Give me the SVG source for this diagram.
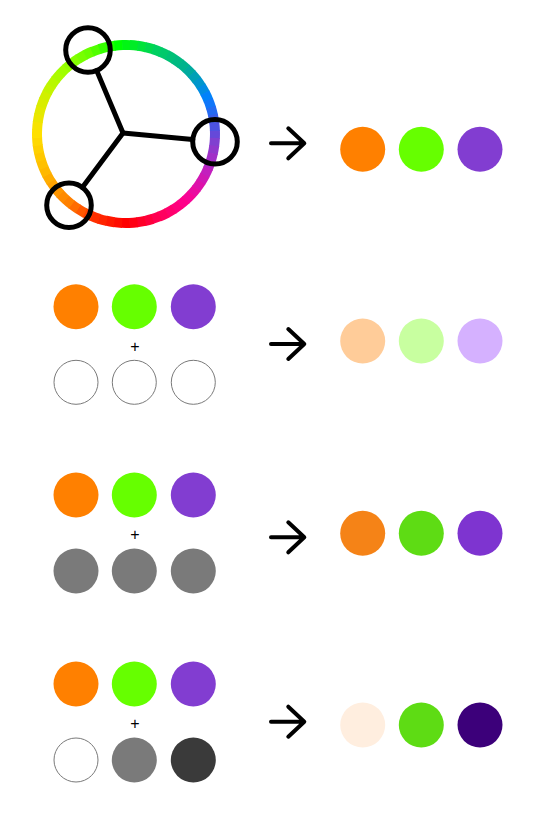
<svg xmlns="http://www.w3.org/2000/svg" xmlns:xlink="http://www.w3.org/1999/xlink" width="542" height="813" viewBox="0 0 542 813">
<style>
.arrow{fill:none;stroke:#000;stroke-width:4;stroke-linecap:round;stroke-linejoin:round}
.spoke{stroke:#000;stroke-width:5;stroke-linecap:round}
.pick{fill:none;stroke:#000;stroke-width:5}
.ring{fill:none;stroke-width:10;stroke-dasharray:8.6 600}
.out{fill:#fff;stroke:#7a7a7a;stroke-width:1}
.plus{font-family:"Liberation Sans",Arial,sans-serif;font-size:16px;fill:#000;text-anchor:middle}
</style>
<defs>
<circle id="seg" class="ring" cx="126" cy="134" r="89"/>
</defs>
<rect width="542" height="813" fill="#fff"/>

<g id="wheel">
<g id="hue-ring">
<use xlink:href="#seg" transform="rotate(-2.5 126 134)" stroke="#6549D9"/>
<use xlink:href="#seg" transform="rotate(2.5 126 134)" stroke="#8040D0"/>
<use xlink:href="#seg" transform="rotate(7.5 126 134)" stroke="#9138CC"/>
<use xlink:href="#seg" transform="rotate(12.5 126 134)" stroke="#A22FC8"/>
<use xlink:href="#seg" transform="rotate(17.5 126 134)" stroke="#B227C3"/>
<use xlink:href="#seg" transform="rotate(22.5 126 134)" stroke="#C31FBE"/>
<use xlink:href="#seg" transform="rotate(27.5 126 134)" stroke="#D018B4"/>
<use xlink:href="#seg" transform="rotate(32.5 126 134)" stroke="#DD11AA"/>
<use xlink:href="#seg" transform="rotate(37.5 126 134)" stroke="#EA0BA0"/>
<use xlink:href="#seg" transform="rotate(42.5 126 134)" stroke="#F70496"/>
<use xlink:href="#seg" transform="rotate(47.5 126 134)" stroke="#FF008A"/>
<use xlink:href="#seg" transform="rotate(52.5 126 134)" stroke="#FF007C"/>
<use xlink:href="#seg" transform="rotate(57.5 126 134)" stroke="#FF006D"/>
<use xlink:href="#seg" transform="rotate(62.5 126 134)" stroke="#FF005F"/>
<use xlink:href="#seg" transform="rotate(67.5 126 134)" stroke="#FF0050"/>
<use xlink:href="#seg" transform="rotate(72.5 126 134)" stroke="#FF003C"/>
<use xlink:href="#seg" transform="rotate(77.5 126 134)" stroke="#FF0028"/>
<use xlink:href="#seg" transform="rotate(82.5 126 134)" stroke="#FF0014"/>
<use xlink:href="#seg" transform="rotate(87.5 126 134)" stroke="#FF0000"/>
<use xlink:href="#seg" transform="rotate(92.5 126 134)" stroke="#FF0C00"/>
<use xlink:href="#seg" transform="rotate(97.5 126 134)" stroke="#FF1800"/>
<use xlink:href="#seg" transform="rotate(102.5 126 134)" stroke="#FF2400"/>
<use xlink:href="#seg" transform="rotate(107.5 126 134)" stroke="#FF3000"/>
<use xlink:href="#seg" transform="rotate(112.5 126 134)" stroke="#FF4400"/>
<use xlink:href="#seg" transform="rotate(117.5 126 134)" stroke="#FF5800"/>
<use xlink:href="#seg" transform="rotate(122.5 126 134)" stroke="#FF6C00"/>
<use xlink:href="#seg" transform="rotate(127.5 126 134)" stroke="#FF8000"/>
<use xlink:href="#seg" transform="rotate(132.5 126 134)" stroke="#FF8B00"/>
<use xlink:href="#seg" transform="rotate(137.5 126 134)" stroke="#FF9600"/>
<use xlink:href="#seg" transform="rotate(142.5 126 134)" stroke="#FFA200"/>
<use xlink:href="#seg" transform="rotate(147.5 126 134)" stroke="#FFAD00"/>
<use xlink:href="#seg" transform="rotate(152.5 126 134)" stroke="#FFB800"/>
<use xlink:href="#seg" transform="rotate(157.5 126 134)" stroke="#FFC000"/>
<use xlink:href="#seg" transform="rotate(162.5 126 134)" stroke="#FFC800"/>
<use xlink:href="#seg" transform="rotate(167.5 126 134)" stroke="#FFD000"/>
<use xlink:href="#seg" transform="rotate(172.5 126 134)" stroke="#FFD800"/>
<use xlink:href="#seg" transform="rotate(177.5 126 134)" stroke="#FFE000"/>
<use xlink:href="#seg" transform="rotate(182.5 126 134)" stroke="#F6E300"/>
<use xlink:href="#seg" transform="rotate(187.5 126 134)" stroke="#ECE600"/>
<use xlink:href="#seg" transform="rotate(192.5 126 134)" stroke="#E3EA00"/>
<use xlink:href="#seg" transform="rotate(197.5 126 134)" stroke="#D9ED00"/>
<use xlink:href="#seg" transform="rotate(202.5 126 134)" stroke="#D0F000"/>
<use xlink:href="#seg" transform="rotate(207.5 126 134)" stroke="#C4F400"/>
<use xlink:href="#seg" transform="rotate(212.5 126 134)" stroke="#B8F800"/>
<use xlink:href="#seg" transform="rotate(217.5 126 134)" stroke="#ACFB00"/>
<use xlink:href="#seg" transform="rotate(222.5 126 134)" stroke="#A0FF00"/>
<use xlink:href="#seg" transform="rotate(227.5 126 134)" stroke="#92FF00"/>
<use xlink:href="#seg" transform="rotate(232.5 126 134)" stroke="#84FF00"/>
<use xlink:href="#seg" transform="rotate(237.5 126 134)" stroke="#77FF00"/>
<use xlink:href="#seg" transform="rotate(242.5 126 134)" stroke="#69FF00"/>
<use xlink:href="#seg" transform="rotate(247.5 126 134)" stroke="#51FF00"/>
<use xlink:href="#seg" transform="rotate(252.5 126 134)" stroke="#36FF00"/>
<use xlink:href="#seg" transform="rotate(257.5 126 134)" stroke="#1BFF00"/>
<use xlink:href="#seg" transform="rotate(262.5 126 134)" stroke="#00FF00"/>
<use xlink:href="#seg" transform="rotate(267.5 126 134)" stroke="#00F613"/>
<use xlink:href="#seg" transform="rotate(272.5 126 134)" stroke="#00EC26"/>
<use xlink:href="#seg" transform="rotate(277.5 126 134)" stroke="#00E33A"/>
<use xlink:href="#seg" transform="rotate(282.5 126 134)" stroke="#00D94D"/>
<use xlink:href="#seg" transform="rotate(287.5 126 134)" stroke="#00D060"/>
<use xlink:href="#seg" transform="rotate(292.5 126 134)" stroke="#00C96B"/>
<use xlink:href="#seg" transform="rotate(297.5 126 134)" stroke="#00C176"/>
<use xlink:href="#seg" transform="rotate(302.5 126 134)" stroke="#00BA81"/>
<use xlink:href="#seg" transform="rotate(307.5 126 134)" stroke="#00B38C"/>
<use xlink:href="#seg" transform="rotate(312.5 126 134)" stroke="#00AA9E"/>
<use xlink:href="#seg" transform="rotate(317.5 126 134)" stroke="#00A0B5"/>
<use xlink:href="#seg" transform="rotate(322.5 126 134)" stroke="#0096CC"/>
<use xlink:href="#seg" transform="rotate(327.5 126 134)" stroke="#008CE3"/>
<use xlink:href="#seg" transform="rotate(332.5 126 134)" stroke="#0082FA"/>
<use xlink:href="#seg" transform="rotate(337.5 126 134)" stroke="#1076F9"/>
<use xlink:href="#seg" transform="rotate(342.5 126 134)" stroke="#246AF1"/>
<use xlink:href="#seg" transform="rotate(347.5 126 134)" stroke="#385EE9"/>
<use xlink:href="#seg" transform="rotate(352.5 126 134)" stroke="#4C52E2"/>
</g>
<g id="spokes">
<line class="spoke" x1="123" y1="133" x2="96.7" y2="70.6"/>
<line class="spoke" x1="123" y1="133" x2="192.7" y2="139.6"/>
<line class="spoke" x1="123" y1="133" x2="82.3" y2="187.5"/>
</g>
<circle id="pick-green" class="pick" cx="88" cy="50" r="22.3"/>
<circle id="pick-purple" class="pick" cx="215" cy="141.7" r="22.3"/>
<circle id="pick-orange" class="pick" cx="69" cy="205.3" r="22.3"/>
</g>

<g id="connectors">
<path class="arrow" d="M271 143.3H304M288.3 128.3L304.3 143.3L288.3 158.3"/>
<path class="arrow" d="M271 344H304M288.3 329L304.3 344L288.3 359"/>
<path class="arrow" d="M271 537.3H304M288.3 522.3L304.3 537.3L288.3 552.3"/>
<path class="arrow" d="M271 721.7H304M288.3 706.7L304.3 721.7L288.3 736.7"/>
</g>

<g id="result-1">
<circle cx="362.7" cy="149.3" r="22.5" fill="#FF8000"/>
<circle cx="421.3" cy="149.3" r="22.5" fill="#66FF00"/>
<circle cx="480" cy="149.3" r="22.5" fill="#823DD1"/>
</g>

<g id="mix-2">
<circle cx="76" cy="306.7" r="22.5" fill="#FF8000"/>
<circle cx="134.3" cy="306.7" r="22.5" fill="#66FF00"/>
<circle cx="193.3" cy="306.7" r="22.5" fill="#823DD1"/>
<text class="plus" x="135" y="351.6">+</text>
<circle class="out" cx="76" cy="382.3" r="22"/>
<circle class="out" cx="134.3" cy="382.3" r="22"/>
<circle class="out" cx="193.3" cy="382.3" r="22"/>
</g>
<g id="result-2">
<circle cx="362.7" cy="341" r="22.5" fill="#FFCC99"/>
<circle cx="421.3" cy="341" r="22.5" fill="#C8FFA0"/>
<circle cx="480" cy="341" r="22.5" fill="#D5B1FF"/>
</g>

<g id="mix-3">
<circle cx="76" cy="495" r="22.5" fill="#FF8000"/>
<circle cx="134.3" cy="495" r="22.5" fill="#66FF00"/>
<circle cx="193.3" cy="495" r="22.5" fill="#823DD1"/>
<text class="plus" x="135" y="540.3">+</text>
<circle cx="76" cy="571" r="22.5" fill="#7A7A7A"/>
<circle cx="134.3" cy="571" r="22.5" fill="#7A7A7A"/>
<circle cx="193.3" cy="571" r="22.5" fill="#7A7A7A"/>
</g>
<g id="result-3">
<circle cx="362.7" cy="533.3" r="22.5" fill="#F58317"/>
<circle cx="421.3" cy="533.3" r="22.5" fill="#5EDC14"/>
<circle cx="480" cy="533.3" r="22.5" fill="#7E34D0"/>
</g>

<g id="mix-4">
<circle cx="76" cy="684" r="22.5" fill="#FF8000"/>
<circle cx="134.3" cy="684" r="22.5" fill="#66FF00"/>
<circle cx="193.3" cy="684" r="22.5" fill="#823DD1"/>
<text class="plus" x="135" y="728.7">+</text>
<circle class="out" cx="76" cy="760" r="22"/>
<circle cx="134.3" cy="760" r="22.5" fill="#7A7A7A"/>
<circle cx="193.3" cy="760" r="22.5" fill="#3A3A3A"/>
</g>
<g id="result-4">
<circle cx="362.7" cy="725" r="22.5" fill="#FFEEDF"/>
<circle cx="421.3" cy="725" r="22.5" fill="#5EDC14"/>
<circle cx="480" cy="725" r="22.5" fill="#3C007A"/>
</g>
</svg>
